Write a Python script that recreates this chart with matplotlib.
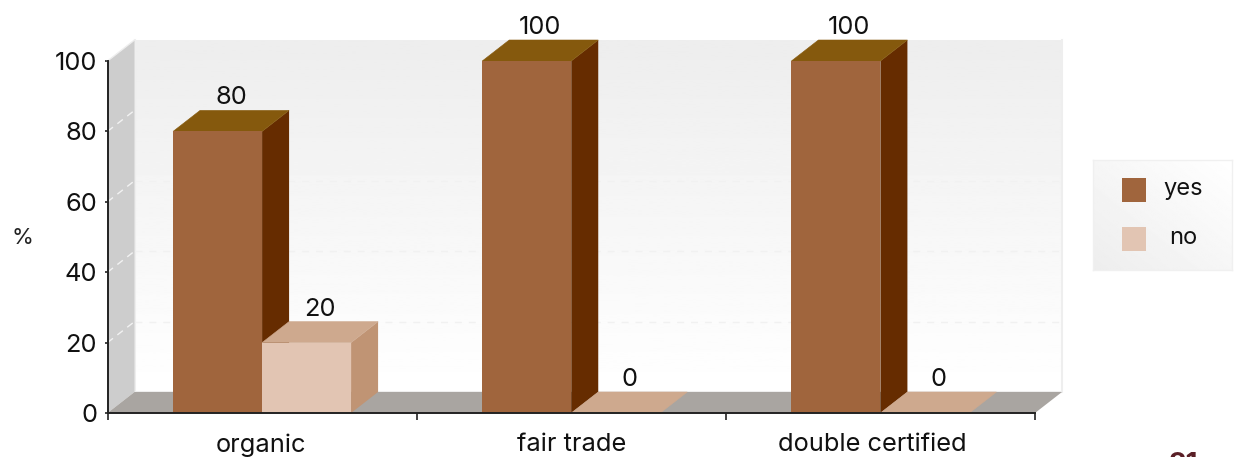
import numpy as np
import matplotlib
matplotlib.use("Agg")
import matplotlib.pyplot as plt
from matplotlib.patches import Polygon, Rectangle

plt.rcParams['font.family'] = ['Inter', 'DejaVu Sans']

categories = ["organic", "fair trade", "double certified"]
category_positions = [0.495, 1.5, 2.474]
yes_values = [80, 100, 100]
no_values = [20, 0, 0]
series_names = ["yes", "no"]
y_ticks = [0, 20, 40, 60, 80, 100]
page_number = "21"

W, H = 1240, 457
LEFT, RIGHT, BOTTOM, TOP = 107.5, 1035.0, 413.0, 61.0
DEPTH_X_PX, DEPTH_Y_PX = 27.0, 21.0
BAR_PX = 89.0
FONT = 18.3

yes_colors = {"front": "#a0653d", "top": "#85590d", "side": "#662c00"}
no_colors = {"front": "#e2c5b3", "top": "#cea98e", "side": "#c09474"}


def px_axes(fig, x0, y0, x1, y1):
    # y values are pixels from the top of the picture
    return fig.add_axes([x0 / W, 1 - y1 / H, (x1 - x0) / W, (y1 - y0) / H])


def draw_bar(ax, x, value, width, dx, dy, colors):
    ax.bar(x, value, width=width, align="edge", color=colors["front"], linewidth=0, zorder=5, clip_on=False)
    top = [(x, value), (x + width, value), (x + width + dx, value + dy), (x + dx, value + dy)]
    side = [(x + width, 0), (x + width + dx, dy), (x + width + dx, value + dy), (x + width, value)]
    ax.add_patch(Polygon(side, closed=True, facecolor=colors["side"], edgecolor="none", zorder=4, clip_on=False))
    ax.add_patch(Polygon(top, closed=True, facecolor=colors["top"], edgecolor=colors["top"], lw=0.4,
                         zorder=4, clip_on=False))


fig = plt.figure(figsize=(W / 100, H / 100), dpi=100, facecolor="white")
ax = px_axes(fig, LEFT, TOP, RIGHT, BOTTOM)
ax.patch.set_alpha(0)

n = len(categories)
dx = DEPTH_X_PX * n / (RIGHT - LEFT)
dy = DEPTH_Y_PX * 100 / (BOTTOM - TOP)
bar_w = BAR_PX * n / (RIGHT - LEFT)

# back wall with vertical gradient
grad = np.linspace(0.93, 1.0, 200).reshape(-1, 1)
ax.imshow(grad, cmap="gray", vmin=0, vmax=1, extent=[dx, n + dx, dy, 100 + dy], origin="upper",
          aspect="auto", zorder=0, clip_on=False)
ax.set_xlim(0, n)
ax.set_ylim(0, 100)
ax.plot([dx, dx, n + dx, n + dx], [100 + dy, dy, dy, 100 + dy], color="#eeeeee", lw=1.5, zorder=1, clip_on=False)

# left wall and floor
ax.add_patch(Polygon([(0, 0), (0, 100), (dx, 100 + dy), (dx, dy)], closed=True, facecolor="#cdcdcd",
                     edgecolor="none", zorder=1, clip_on=False))
ax.add_patch(Polygon([(0, 0), (n, 0), (n + dx, dy), (dx, dy)], closed=True, facecolor="#a9a5a1",
                     edgecolor="none", zorder=2, clip_on=False))

# grid lines on both walls
for t in y_ticks[1:-1]:
    ax.plot([dx, n + dx], [t + dy, t + dy], color="#f1f1f1", lw=1, ls=(0, (5, 5)), zorder=1, clip_on=False)
    ax.plot([0, dx], [t, t + dy], color="#f2f2f2", lw=1, ls=(0, (5, 4)), zorder=2, clip_on=False)
ax.plot([0, dx], [100, 100 + dy], color="#eeeeee", lw=1, zorder=2, clip_on=False)

# bars, drawn back to front per group
for i in range(n):
    x_yes = i + 0.5 - bar_w
    x_no = i + 0.5
    draw_bar(ax, x_yes, yes_values[i], bar_w, dx, dy, yes_colors)
    draw_bar(ax, x_no, no_values[i], bar_w, dx, dy, no_colors)
    ax.text(x_yes + bar_w / 2 + dx / 2, yes_values[i] + dy + 0.3, str(yes_values[i]), ha="center", va="bottom",
            fontsize=FONT, color="#111111", zorder=7, clip_on=False)
    ax.text(x_no + bar_w / 2 + dx / 2, no_values[i] + dy + 0.3, str(no_values[i]), ha="center", va="bottom",
            fontsize=FONT, color="#111111", zorder=7, clip_on=False)

# axes
for name in ("top", "right"):
    ax.spines[name].set_visible(False)
for name in ("left", "bottom"):
    ax.spines[name].set_color("#222222")
    ax.spines[name].set_linewidth(1.4)
    ax.spines[name].set_zorder(8)

ax.set_yticks(y_ticks)
ax.set_xticks(range(n + 1))
ax.set_xticklabels([""] * (n + 1))
ax.set_xticks(category_positions, minor=True)
ax.set_xticklabels(categories, minor=True)
ax.tick_params(axis="x", which="major", length=5, width=1.2, color="#222222")
ax.tick_params(axis="x", which="minor", length=0, pad=14.5, labelsize=FONT, labelcolor="#111111")
ax.tick_params(axis="y", length=2, width=1.2, color="#222222", labelsize=FONT, labelcolor="#111111", pad=5.5)

fig.text(22 / W, 1 - 238 / H, "%", ha="center", va="center", fontsize=16, color="#222222")
fig.text(1183 / W, 1 - 472 / H, page_number, ha="center", va="baseline", fontsize=20, fontweight="bold",
         color="#5a1f26", clip_on=True)

# legend box
leg = px_axes(fig, 1093, 160, 1232, 270)
xx, yy = np.meshgrid(np.linspace(0, 1, 100), np.linspace(0, 1, 100))
leg.imshow(0.93 + 0.07 * (xx + (1 - yy)) / 2, cmap="gray", vmin=0, vmax=1, extent=[1093, 1232, 270, 160],
           aspect="auto", zorder=0)
leg.set_xlim(1093, 1232)
leg.set_ylim(270, 160)
leg.set_xticks([])
leg.set_yticks([])
for s in leg.spines.values():
    s.set_color("#f0f0f0")
    s.set_linewidth(1)
for name, color, y_mid in zip(series_names, [yes_colors["front"], no_colors["front"]], [190, 239]):
    leg.add_patch(Rectangle((1122, y_mid - 12), 24, 24, facecolor=color, edgecolor="none", zorder=2))
    leg.text(1183.5, y_mid - 1, name, ha="center", va="center", fontsize=17, color="#111111", zorder=3)

fig.savefig("out.png", dpi=100)
